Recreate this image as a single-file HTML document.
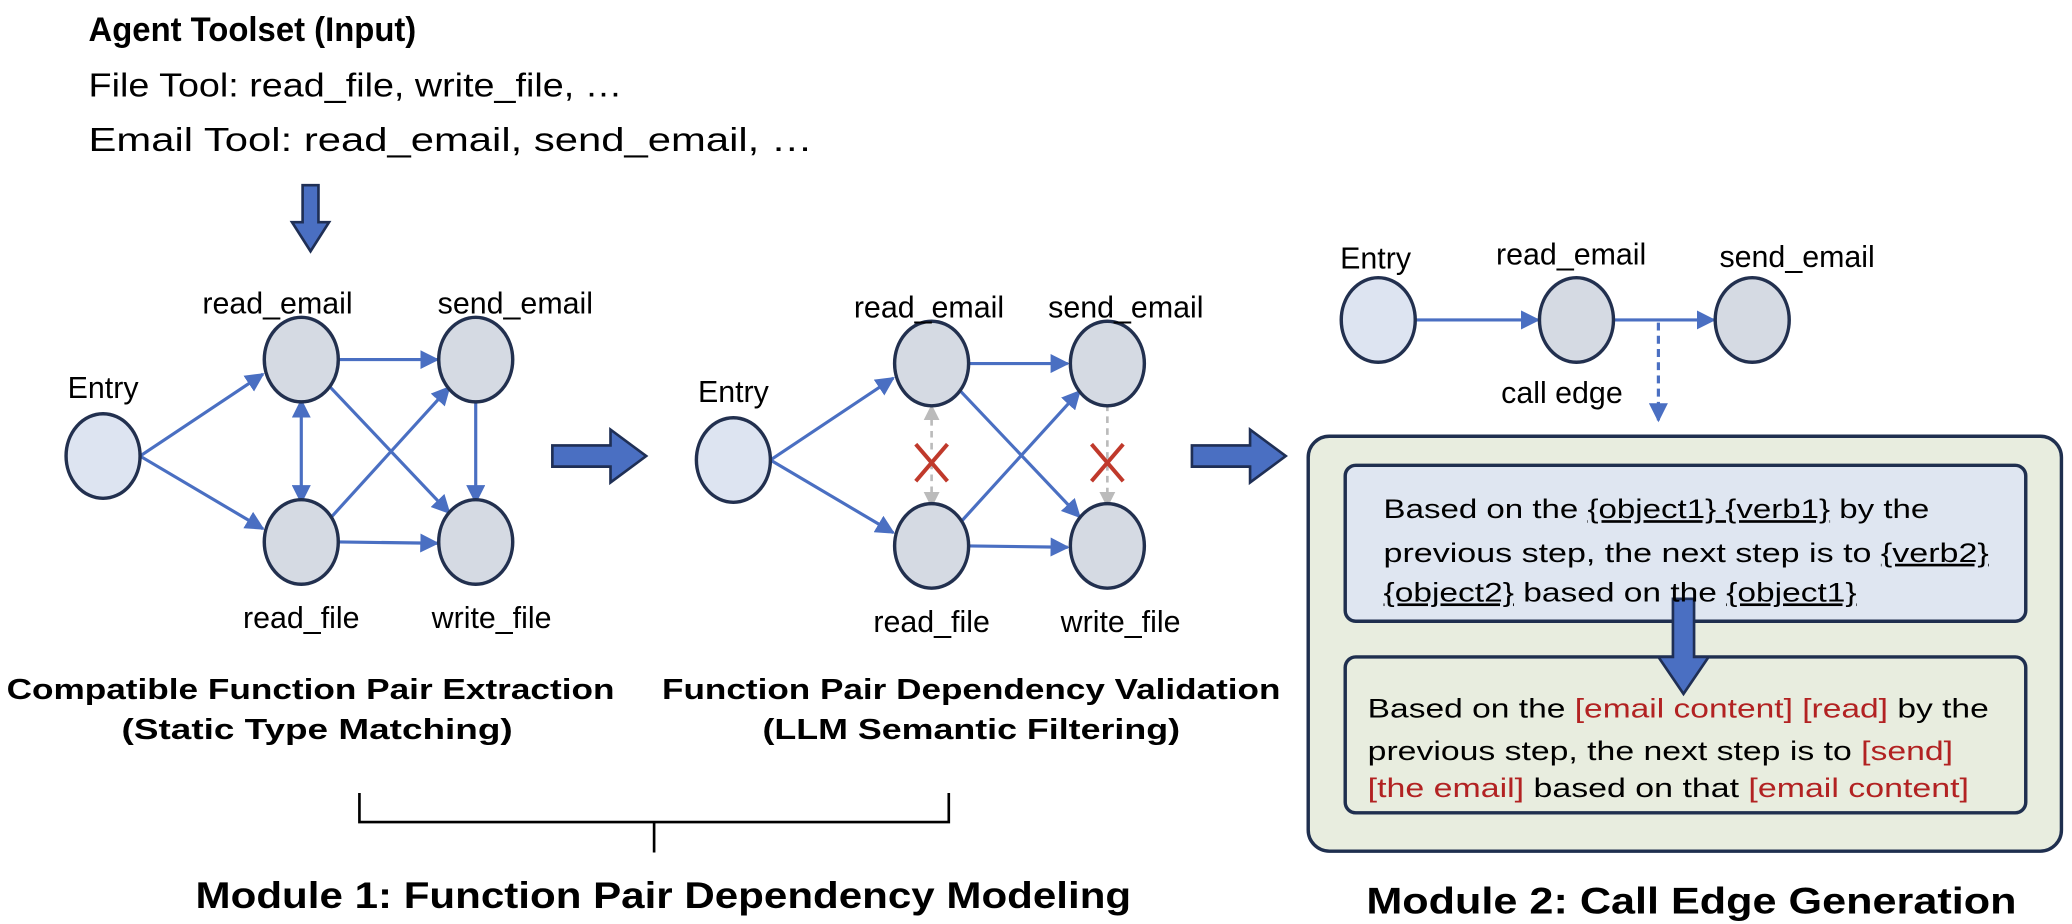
<!DOCTYPE html>
<html><head><meta charset="utf-8"><style>
html,body{margin:0;padding:0;background:#fff}
svg{display:block}
text{font-family:"Liberation Sans","DejaVu Sans",sans-serif;fill:#000}
.b{font-weight:bold}
.r{fill:#b22222}
</style></head><body>
<svg width="2072" height="924" viewBox="0 0 1568 699" xmlns="http://www.w3.org/2000/svg">
<defs>
<marker id="a" viewBox="0 0 10 10" refX="9" refY="5" markerWidth="6" markerHeight="6" orient="auto-start-reverse"><path d="M0,0L10,5L0,10z" fill="#4a6fc2"/></marker>
<marker id="g" viewBox="0 0 10 10" refX="9" refY="5" markerWidth="6" markerHeight="6" orient="auto-start-reverse"><path d="M0,0L10,5L0,10z" fill="#bbb"/></marker>
</defs>
<text x="67" y="31" font-size="26" class="b" textLength="248" lengthAdjust="spacingAndGlyphs">Agent Toolset (Input)</text>
<text x="67" y="73" font-size="25" textLength="404" lengthAdjust="spacingAndGlyphs">File Tool: read_file, write_file, …</text>
<text x="67" y="114" font-size="25" textLength="548" lengthAdjust="spacingAndGlyphs">Email Tool: read_email, send_email, …</text>
<path d="M229,140h12v28h8l-14,22l-14,-22h8z" fill="#4a6fc2" stroke="#1f2f55" stroke-width="2"/>

<!-- graph 1 -->
<g stroke="#4a6fc2" stroke-width="2.4" fill="none" marker-end="url(#a)">
<line x1="106" y1="345" x2="199" y2="283"/>
<line x1="106" y1="345" x2="199" y2="400"/>
<line x1="256" y1="272" x2="331" y2="272"/>
<line x1="256" y1="410" x2="331" y2="411"/>
<line x1="228" y1="303" x2="228" y2="380" marker-start="url(#a)"/>
<line x1="250" y1="293" x2="340" y2="388"/>
<line x1="250" y1="392" x2="340" y2="293"/>
<line x1="360" y1="302" x2="360" y2="380"/>
</g>
<g stroke="#22304f" stroke-width="2.6">
<ellipse cx="78" cy="345" rx="28" ry="32" fill="#dde4f1"/>
<ellipse cx="228" cy="272" rx="28" ry="32" fill="#d5dae3"/>
<ellipse cx="360" cy="272" rx="28" ry="32" fill="#d5dae3"/>
<ellipse cx="228" cy="410" rx="28" ry="32" fill="#d5dae3"/>
<ellipse cx="360" cy="410" rx="28" ry="32" fill="#d5dae3"/>
</g>
<text x="78" y="301" font-size="23" text-anchor="middle">Entry</text>
<text x="210" y="237" font-size="23" text-anchor="middle">read_email</text>
<text x="390" y="237" font-size="23" text-anchor="middle">send_email</text>
<text x="228" y="475" font-size="23" text-anchor="middle">read_file</text>
<text x="372" y="475" font-size="23" text-anchor="middle">write_file</text>
<path d="M418,337h44v-12l27,20l-27,20v-12h-44z" fill="#4a6fc2" stroke="#1f2f55" stroke-width="2"/>

<!-- graph 2 -->
<g stroke="#4a6fc2" stroke-width="2.4" fill="none" marker-end="url(#a)">
<line x1="583" y1="348" x2="676" y2="286"/>
<line x1="583" y1="348" x2="676" y2="403"/>
<line x1="733" y1="275" x2="808" y2="275"/>
<line x1="733" y1="413" x2="808" y2="414"/>
<line x1="727" y1="296" x2="817" y2="391"/>
<line x1="727" y1="395" x2="817" y2="296"/>
</g>
<g stroke="#bbb" stroke-width="2" stroke-dasharray="5,4" fill="none" marker-end="url(#g)">
<line x1="705" y1="340" x2="705" y2="307"/>
<line x1="705" y1="350" x2="705" y2="383"/>
<line x1="838" y1="306" x2="838" y2="383"/>
</g>
<g stroke="#c0392b" stroke-width="3">
<line x1="693" y1="336" x2="717" y2="364"/><line x1="717" y1="336" x2="693" y2="364"/>
<line x1="826" y1="336" x2="850" y2="364"/><line x1="850" y1="336" x2="826" y2="364"/>
</g>
<g stroke="#22304f" stroke-width="2.6">
<ellipse cx="555" cy="348" rx="28" ry="32" fill="#dde4f1"/>
<ellipse cx="705" cy="275" rx="28" ry="32" fill="#d5dae3"/>
<ellipse cx="838" cy="275" rx="28" ry="32" fill="#d5dae3"/>
<ellipse cx="705" cy="413" rx="28" ry="32" fill="#d5dae3"/>
<ellipse cx="838" cy="413" rx="28" ry="32" fill="#d5dae3"/>
</g>
<text x="555" y="304" font-size="23" text-anchor="middle">Entry</text>
<text x="703" y="240" font-size="23" text-anchor="middle">read_email</text>
<text x="852" y="240" font-size="23" text-anchor="middle">send_email</text>
<text x="705" y="478" font-size="23" text-anchor="middle">read_file</text>
<text x="848" y="478" font-size="23" text-anchor="middle">write_file</text>
<path d="M902,337h44v-12l27,20l-27,20v-12h-44z" fill="#4a6fc2" stroke="#1f2f55" stroke-width="2"/>

<!-- captions -->
<text x="235" y="529" font-size="22" class="b" text-anchor="middle" textLength="460" lengthAdjust="spacingAndGlyphs">Compatible Function Pair Extraction</text>
<text x="240" y="559" font-size="22" class="b" text-anchor="middle" textLength="296" lengthAdjust="spacingAndGlyphs">(Static Type Matching)</text>
<text x="735" y="529" font-size="22" class="b" text-anchor="middle" textLength="468" lengthAdjust="spacingAndGlyphs">Function Pair Dependency Validation</text>
<text x="735" y="559" font-size="22" class="b" text-anchor="middle" textLength="316" lengthAdjust="spacingAndGlyphs">(LLM Semantic Filtering)</text>
<path d="M272,600v22h446v-22M495,622v23" fill="none" stroke="#000" stroke-width="2"/>
<text x="502" y="687" font-size="28" class="b" text-anchor="middle" textLength="708" lengthAdjust="spacingAndGlyphs">Module 1: Function Pair Dependency Modeling</text>
<text x="1280" y="691" font-size="28" class="b" text-anchor="middle" textLength="492" lengthAdjust="spacingAndGlyphs">Module 2: Call Edge Generation</text>

<!-- graph 3 -->
<g stroke="#4a6fc2" stroke-width="2.4" fill="none">
<line x1="1071" y1="242" x2="1164" y2="242" marker-end="url(#a)"/>
<line x1="1221" y1="242" x2="1297" y2="242" marker-end="url(#a)"/>
<line x1="1255" y1="244" x2="1255" y2="318" stroke-dasharray="6,4" marker-end="url(#a)"/>
</g>
<g stroke="#22304f" stroke-width="2.6">
<ellipse cx="1043" cy="242" rx="28" ry="32" fill="#dde4f1"/>
<ellipse cx="1193" cy="242" rx="28" ry="32" fill="#d5dae3"/>
<ellipse cx="1326" cy="242" rx="28" ry="32" fill="#d5dae3"/>
</g>
<text x="1041" y="203" font-size="23" text-anchor="middle">Entry</text>
<text x="1189" y="200" font-size="23" text-anchor="middle">read_email</text>
<text x="1360" y="202" font-size="23" text-anchor="middle">send_email</text>
<text x="1182" y="305" font-size="23" text-anchor="middle">call edge</text>

<!-- module 2 box -->
<rect x="990" y="330" width="570" height="314" rx="16" fill="#e8eddf" stroke="#1f2f4f" stroke-width="2.6"/>
<rect x="1018" y="352" width="515" height="118" rx="8" fill="#dfe6f1" stroke="#1f2f4f" stroke-width="2.6"/>
<rect x="1018" y="497" width="515" height="118" rx="8" fill="#e8eddf" stroke="#1f2f4f" stroke-width="2.6"/>
<path d="M1266,453h16v44h11l-19,28l-19,-28h11z" fill="#4a6fc2" stroke="#1f2f55" stroke-width="2"/>
<g font-size="20">
<text x="1047" y="392" textLength="413" lengthAdjust="spacingAndGlyphs">Based on the <tspan text-decoration="underline">{object1} {verb1}</tspan> by the</text>
<text x="1047" y="425" textLength="458" lengthAdjust="spacingAndGlyphs">previous step, the next step is to <tspan text-decoration="underline">{verb2}</tspan></text>
<text x="1047" y="455" textLength="358" lengthAdjust="spacingAndGlyphs"><tspan text-decoration="underline">{object2}</tspan> based on the <tspan text-decoration="underline">{object1}</tspan></text>
<text x="1035" y="543" textLength="470" lengthAdjust="spacingAndGlyphs">Based on the <tspan class="r">[email content] [read]</tspan> by the</text>
<text x="1035" y="575" textLength="443" lengthAdjust="spacingAndGlyphs">previous step, the next step is to <tspan class="r">[send]</tspan></text>
<text x="1035" y="603" textLength="455" lengthAdjust="spacingAndGlyphs"><tspan class="r">[the email]</tspan> based on that <tspan class="r">[email content]</tspan></text>
</g>
</svg>
</body></html>
